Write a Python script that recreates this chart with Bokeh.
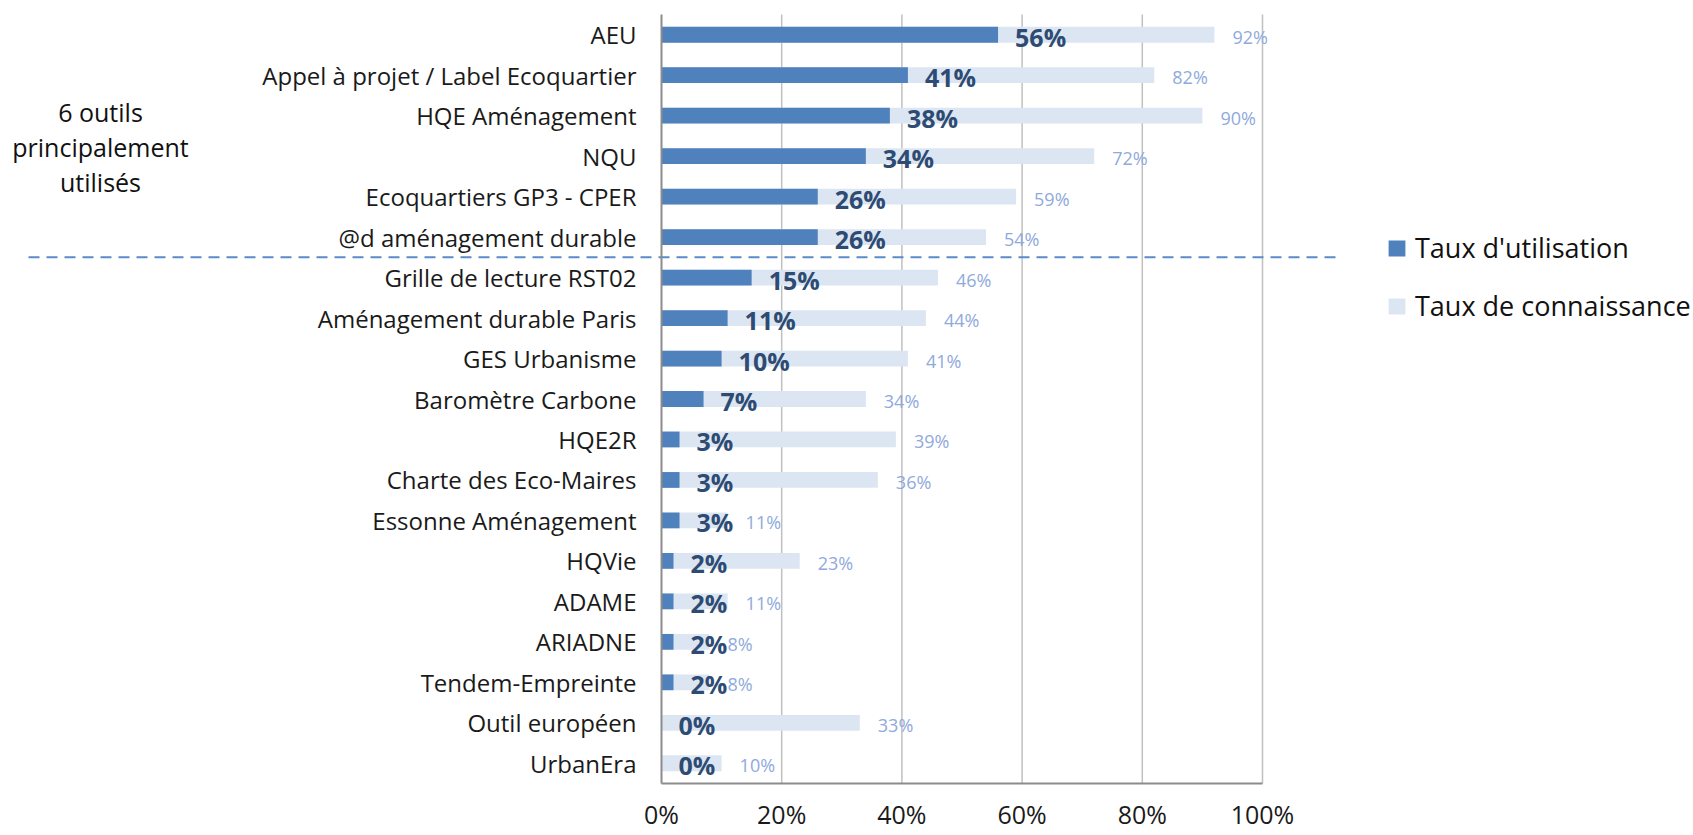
from bokeh.plotting import figure
from bokeh.models import (ColumnDataSource, Range1d, FixedTicker, NumeralTickFormatter,
                          LabelSet, Label, Legend, LegendItem)
from bokeh.core.properties import value
from bokeh.embed import file_html
from bokeh.resources import INLINE

tools = ["AEU", "Appel à projet / Label Ecoquartier", "HQE Aménagement", "NQU",
         "Ecoquartiers GP3 - CPER", "@d aménagement durable", "Grille de lecture RST02",
         "Aménagement durable Paris", "GES Urbanisme", "Baromètre Carbone", "HQE2R",
         "Charte des Eco-Maires", "Essonne Aménagement", "HQVie", "ADAME", "ARIADNE",
         "Tendem-Empreinte", "Outil européen", "UrbanEra"]
utilisation = [56, 41, 38, 34, 26, 26, 15, 11, 10, 7, 3, 3, 3, 2, 2, 2, 2, 0, 0]
connaissance = [92, 82, 90, 72, 59, 54, 46, 44, 41, 34, 39, 36, 11, 23, 11, 8, 8, 33, 10]
x_ticks = [0, 0.2, 0.4, 0.6, 0.8, 1.0]
n_main = 6
annotation = "6 outils\nprincipalement\nutilisés"
series_names = ["Taux d'utilisation", "Taux de connaissance"]

n = len(tools)
idx = list(range(n))
src = ColumnDataSource(dict(
    y=idx,
    u=[v / 100 for v in utilisation],
    k=[v / 100 for v in connaissance],
    ul=[f"{v}%" for v in utilisation],
    kl=[f"{v}%" for v in connaissance],
))

DARK = "#4F81BD"
LIGHT = "#DCE6F2"
FONT = "Open Sans"

# page geometry (pixels): plot band from PX0..PX1 / PY0..PY1 on a W x H canvas
W, H = 1692, 834
PX0, PX1 = 661, 1262          # 0% and 100%
PY0, PY1 = 14, 783            # top and bottom of category band
sx = (PX1 - PX0)              # px per unit of x
sy = (PY1 - PY0) / n          # px per category

x_range = Range1d(-PX0 / sx, (W - PX0) / sx)
y_range = Range1d(n - 0.5 + (H - PY1) / sy, -0.5 - PY0 / sy)

p = figure(width=W, height=H, output_backend="svg", toolbar_location=None,
           x_range=x_range, y_range=y_range, min_border=0,
           min_border_left=0, min_border_right=0, min_border_top=0, min_border_bottom=0,
           background_fill_color="white", border_fill_color="white")
p.outline_line_color = None
p.grid.visible = False

# vertical gridlines inside the plot band
p.segment(x0=x_ticks[1:], x1=x_ticks[1:], y0=[-0.5] * (len(x_ticks) - 1),
          y1=[n - 0.5] * (len(x_ticks) - 1), line_color="#C0C0C0", line_width=1.5)

r_k = p.hbar(y="y", right="k", left=0, height=0.39, source=src,
             fill_color=LIGHT, line_color=None)
r_u = p.hbar(y="y", right="u", left=0, height=0.39, source=src,
             fill_color=DARK, line_color=None)

# axes, drawn at fixed locations
p.xaxis.fixed_location = n - 0.5
p.xaxis.bounds = (0, 1)
p.xaxis.ticker = FixedTicker(ticks=x_ticks)
p.xaxis.formatter = NumeralTickFormatter(format="0%")
p.xaxis.major_tick_out = 0
p.xaxis.major_tick_in = 0
p.xaxis.minor_tick_out = 0
p.xaxis.minor_tick_in = 0
p.xaxis.major_label_standoff = 13
p.xaxis.major_label_text_font = FONT
p.xaxis.major_label_text_font_size = "25px"
p.xaxis.major_label_text_color = "#1a1a1a"
p.xaxis.axis_line_color = "#8C8C8C"
p.xaxis.axis_line_width = 2

p.yaxis.fixed_location = 0
p.yaxis.bounds = (-0.5, n - 0.5)
p.yaxis.ticker = FixedTicker(ticks=idx)
p.yaxis.major_label_overrides = {i: t for i, t in enumerate(tools)}
p.yaxis.major_tick_out = 0
p.yaxis.major_tick_in = 0
p.yaxis.minor_tick_out = 0
p.yaxis.minor_tick_in = 0
p.yaxis.major_label_standoff = 25
p.yaxis.major_label_text_font = FONT
p.yaxis.major_label_text_font_size = "24px"
p.yaxis.major_label_text_color = "#1a1a1a"
p.yaxis.axis_line_color = "#8C8C8C"
p.yaxis.axis_line_width = 2

# value labels
p.add_layout(LabelSet(x="k", y="y", text="kl", source=src, x_offset=18, y_offset=-2,
                      text_font=value(FONT), text_font_size="18px", text_color="#8FAADC",
                      text_baseline="middle", text_align="left"))
p.add_layout(LabelSet(x="u", y="y", text="ul", source=src, x_offset=17, y_offset=-2,
                      text_font=value(FONT), text_font_size="25px", text_font_style="bold",
                      text_color="#2D4B73", text_baseline="middle", text_align="left"))

# separator line between the main tools and the others
p.segment(x0=[-(PX0 - 28) / sx], x1=[(1336 - PX0) / sx], y0=[n_main - 0.5],
          y1=[n_main - 0.5], line_color="#5B8BC9", line_width=2, line_dash="11 7")

# annotation text
p.add_layout(Label(x=-(PX0 - 100) / sx, y=2.78, text=annotation, text_font=FONT,
                   text_font_size="25px", text_color="#111111", text_align="center",
                   text_baseline="middle", text_line_height=1.03))

legend = Legend(items=[LegendItem(label=series_names[0], renderers=[r_u]),
                       LegendItem(label=series_names[1], renderers=[r_k])],
                location=(1386, 510), orientation="vertical",
                glyph_width=21, glyph_height=20, label_standoff=8, spacing=21,
                padding=0, margin=0, border_line_color=None,
                background_fill_alpha=0, label_text_font=FONT,
                label_text_font_size="27px", label_text_color="#111111")
p.add_layout(legend)

open("out.html", "w").write(file_html(p, INLINE))
